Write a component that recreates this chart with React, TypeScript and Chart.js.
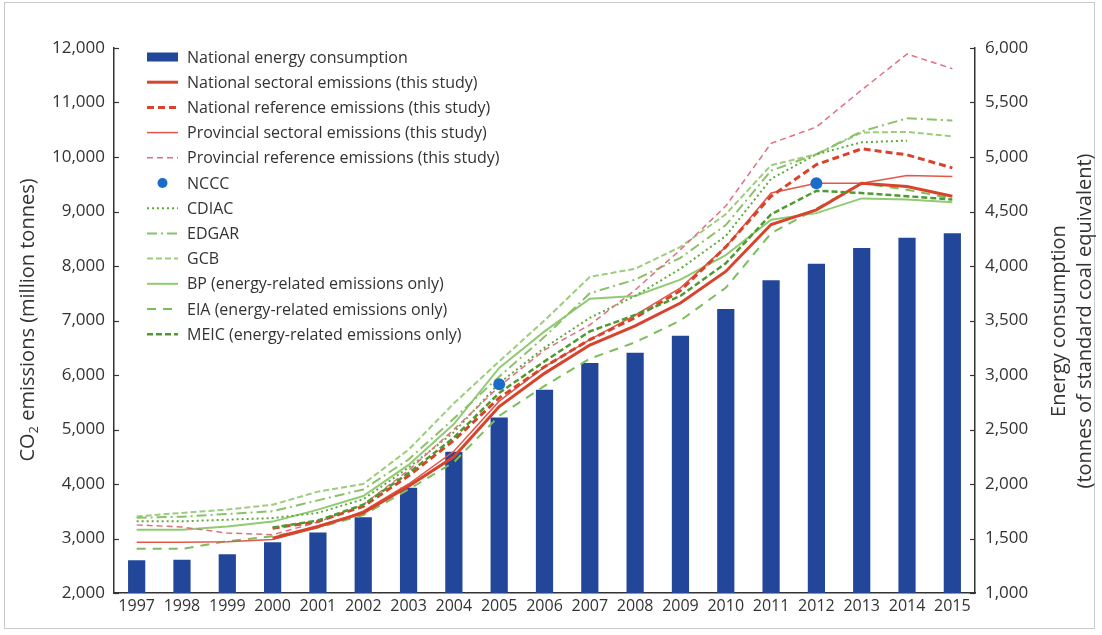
import React, { useEffect, useRef } from 'react';
import { Chart, registerables } from 'chart.js';

Chart.register(...registerables);

const years = ['1997', '1998', '1999', '2000', '2001', '2002', '2003', '2004', '2005', '2006', '2007', '2008', '2009', '2010', '2011', '2012', '2013', '2014', '2015'];

const energyConsumption = [1300, 1305, 1355, 1465, 1555, 1695, 1965, 2295, 2610, 2865, 3110, 3205, 3360, 3605, 3870, 4020, 4165, 4260, 4300];
const nationalSectoral = [null, null, null, 3005, 3220, 3470, 3960, 4500, 5420, 6030, 6550, 6900, 7320, 7900, 8760, 9030, 9520, 9460, 9280];
const nationalReference = [null, null, null, 3190, 3310, 3590, 4150, 4800, 5580, 6150, 6650, 7050, 7550, 8350, 9280, 9860, 10150, 10040, 9800];
const provincialSectoral = [2930, 2930, 2940, 2980, 3200, 3500, 4000, 4600, 5520, 6150, 6650, 7100, 7600, 8350, 9340, 9520, 9520, 9660, 9640];
const provincialReference = [3250, 3210, 3100, 3070, 3300, 3620, 4250, 5000, 5790, 6460, 6920, 7560, 8300, 9100, 10250, 10550, 11230, 11890, 11620];
const ncccPoints = [null, null, null, null, null, null, null, null, 5830, null, null, null, null, null, null, 9520, null, null, null];
const cdiac = [3315, 3315, 3345, 3375, 3470, 3720, 4300, 4950, 5850, 6500, 7050, 7450, 7950, 8550, 9600, 10050, 10270, 10300, null];
const edgar = [3380, 3400, 3450, 3500, 3700, 3900, 4450, 5200, 5970, 6700, 7500, 7750, 8150, 8750, 9750, 10050, 10470, 10710, 10670];
const gcb = [3405, 3470, 3530, 3620, 3860, 4000, 4630, 5480, 6250, 7000, 7800, 7950, 8350, 8950, 9850, 10050, 10450, 10460, 10380];
const bp = [3160, 3160, 3220, 3310, 3530, 3780, 4350, 5100, 6130, 6800, 7400, 7450, 7750, 8200, 8850, 8970, 9240, 9220, 9170];
const eia = [2810, 2810, 2950, 3040, 3200, 3430, 3900, 4400, 5250, 5800, 6300, 6600, 7000, 7600, 8600, 9050, 9520, 9400, 9240];
const meic = [null, null, null, 3200, 3330, 3620, 4200, 4850, 5670, 6250, 6800, 7100, 7450, 8050, 8950, 9380, 9340, 9280, 9220];

const leftTicks = [2000, 12000, 1000];
const rightTicks = [1000, 6000, 500];

const FONT = '"Open Sans", "DejaVu Sans", sans-serif';
const TEXT = '#333333';

const customPlugin = {
  id: 'customDecor',
  afterDraw(chart: any) {
    const ctx = chart.ctx as CanvasRenderingContext2D;
    const { left, right } = chart.chartArea;
    const yS = chart.scales.y;
    const y1S = chart.scales.y1;
    ctx.save();
    // inward tick marks
    ctx.strokeStyle = '#333';
    ctx.lineWidth = 1.2;
    yS.ticks.forEach((t: any) => {
      const py = Math.round(yS.getPixelForValue(t.value)) + 0.5;
      ctx.beginPath();
      ctx.moveTo(left, py);
      ctx.lineTo(left + 5, py);
      ctx.stroke();
    });
    y1S.ticks.forEach((t: any) => {
      const py = Math.round(y1S.getPixelForValue(t.value)) + 0.5;
      ctx.beginPath();
      ctx.moveTo(right - 5, py);
      ctx.lineTo(right, py);
      ctx.stroke();
    });

    // legend
    const ds = chart.data.datasets;
    const symX0 = 147;
    const symX1 = 178;
    const textX = 187;
    let rowY = 57;
    ctx.font = `16px ${FONT}`;
    ctx.textBaseline = 'middle';
    ctx.textAlign = 'left';
    ds.forEach((d: any) => {
      ctx.save();
      if (d.type === 'bar') {
        ctx.fillStyle = d.backgroundColor;
        ctx.fillRect(symX0, rowY - 4.5, symX1 - symX0, 9);
      } else if (d.showLine === false) {
        ctx.fillStyle = d.pointBackgroundColor;
        ctx.beginPath();
        ctx.arc((symX0 + symX1) / 2, rowY, 5, 0, Math.PI * 2);
        ctx.fill();
      } else {
        ctx.strokeStyle = d.borderColor;
        ctx.lineWidth = d.borderWidth;
        ctx.setLineDash(d.borderDash || []);
        ctx.beginPath();
        ctx.moveTo(symX0, rowY);
        ctx.lineTo(symX1, rowY);
        ctx.stroke();
      }
      ctx.restore();
      ctx.fillStyle = TEXT;
      ctx.fillText(d.label, textX, rowY + 1);
      rowY += 25.2;
    });

    // left axis title with subscript
    ctx.save();
    ctx.translate(28, 320);
    ctx.rotate(-Math.PI / 2);
    ctx.fillStyle = TEXT;
    ctx.textBaseline = 'middle';
    const big = `20px ${FONT}`;
    const small = `13px ${FONT}`;
    const partA = 'CO';
    const partB = '2';
    const partC = ' emissions (million tonnes)';
    ctx.font = big;
    const wA = ctx.measureText(partA).width;
    const wC = ctx.measureText(partC).width;
    ctx.font = small;
    const wB = ctx.measureText(partB).width;
    let x = -(wA + wB + wC) / 2;
    ctx.textAlign = 'left';
    ctx.font = big;
    ctx.fillText(partA, x, 0);
    x += wA;
    ctx.font = small;
    ctx.fillText(partB, x, 6);
    x += wB;
    ctx.font = big;
    ctx.fillText(partC, x, 0);
    ctx.restore();

    // right axis title (two lines)
    ctx.save();
    ctx.fillStyle = TEXT;
    ctx.textBaseline = 'middle';
    ctx.textAlign = 'center';
    ctx.font = `20px ${FONT}`;
    ctx.translate(1059, 321);
    ctx.rotate(-Math.PI / 2);
    ctx.fillText('Energy consumption', 0, 0);
    ctx.fillText('(tonnes of standard coal equivalent)', 0, 26);
    ctx.restore();

    ctx.restore();
  },
};

export default function App() {
  const canvasRef = useRef<HTMLCanvasElement | null>(null);

  useEffect(() => {
    if (!canvasRef.current) return;
    const red = '#d8432c';
    const lineDs = (label: string, data: any[], color: string, width: number, dash: number[], order: number) => ({
      type: 'line' as const,
      label,
      data,
      borderColor: color,
      backgroundColor: color,
      borderWidth: width,
      borderDash: dash,
      pointRadius: 0,
      tension: 0,
      fill: false,
      yAxisID: 'y',
      order,
    });
    const chart = new Chart(canvasRef.current, {
      data: {
        labels: years,
        datasets: [
          {
            type: 'bar',
            label: 'National energy consumption',
            data: energyConsumption,
            backgroundColor: '#22479a',
            borderWidth: 0,
            yAxisID: 'y1',
            categoryPercentage: 0.8,
            barPercentage: 0.475,
            order: 100,
          } as any,
          lineDs('National sectoral emissions (this study)', nationalSectoral, red, 3, [], 3),
          lineDs('National reference emissions (this study)', nationalReference, red, 3, [7, 4], 4),
          lineDs('Provincial sectoral emissions (this study)', provincialSectoral, '#e2574a', 1.5, [], 5),
          lineDs('Provincial reference emissions (this study)', provincialReference, '#e07080', 1.5, [6, 4], 6),
          {
            type: 'line',
            label: 'NCCC',
            data: ncccPoints,
            showLine: false,
            pointRadius: 6,
            pointBackgroundColor: '#1b6cc8',
            pointBorderWidth: 0,
            borderColor: '#1b6cc8',
            yAxisID: 'y',
            order: 1,
          } as any,
          lineDs('CDIAC', cdiac, '#5eaa3c', 2, [2, 3], 8),
          lineDs('EDGAR', edgar, '#8cc06a', 2, [10, 4, 2, 4], 9),
          lineDs('GCB', gcb, '#9ccc7c', 2, [6, 3], 10),
          lineDs('BP (energy-related emissions only)', bp, '#8fcb72', 2, [], 11),
          lineDs('EIA (energy-related emissions only)', eia, '#7cbd5a', 2, [9, 7], 7),
          lineDs('MEIC (energy-related emissions only)', meic, '#4f9a30', 2.5, [6, 3], 2),
        ] as any,
      },
      options: {
        animation: false,
        responsive: false,
        maintainAspectRatio: false,
        devicePixelRatio: 1,
        layout: { padding: { left: 10, right: 0, top: 48, bottom: 0 } },
        plugins: {
          legend: { display: false },
          tooltip: { enabled: false },
        },
        scales: {
          x: {
            type: 'category',
            offset: true,
            grid: { display: false, drawTicks: false },
            border: { display: true, color: '#333', width: 1.5 },
            ticks: { color: TEXT, font: { family: FONT, size: 16 }, padding: 4, maxRotation: 0, autoSkip: false },
            afterFit: (s: any) => { s.height = 42; },
          },
          y: {
            type: 'linear',
            position: 'left',
            min: leftTicks[0],
            max: leftTicks[1],
            ticks: { stepSize: leftTicks[2], color: TEXT, font: { family: FONT, size: 17 }, padding: 9 },
            grid: { display: false, drawTicks: false },
            border: { display: true, color: '#333', width: 1.5 },
            afterFit: (s: any) => { s.width = 104; },
          },
          y1: {
            type: 'linear',
            position: 'right',
            min: rightTicks[0],
            max: rightTicks[1],
            ticks: { stepSize: rightTicks[2], color: TEXT, font: { family: FONT, size: 17 }, padding: 10 },
            grid: { display: false, drawTicks: false },
            border: { display: true, color: '#333', width: 1.5 },
            afterFit: (s: any) => { s.width = 127; },
          },
        },
      } as any,
      plugins: [customPlugin],
    });
    return () => chart.destroy();
  }, []);

  return (
    <div style={{ position: 'fixed', left: 0, top: 0, width: 1102, height: 635, background: '#fff' }}>
      <div style={{ position: 'absolute', left: 4, top: 2, width: 1089, height: 625, border: '1px solid #c9c9c9' }} />
      <canvas ref={canvasRef} width={1102} height={635} style={{ position: 'absolute', left: 0, top: 0, width: 1102, height: 635 }} />
    </div>
  );
}
